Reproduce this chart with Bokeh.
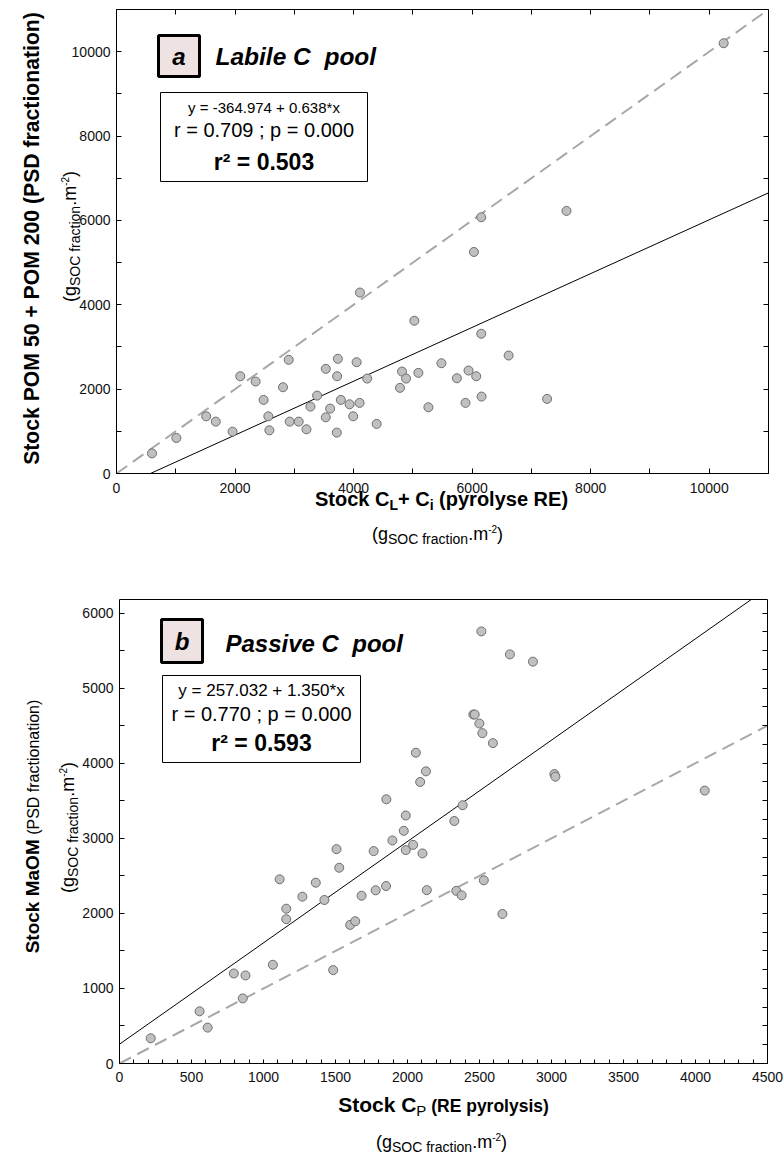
from math import pi
from bokeh.plotting import figure
from bokeh.models import (Range1d, FixedTicker, LinearAxis, Label, BoxAnnotation,
                          CustomJSTickFormatter)
from bokeh.layouts import column
from bokeh.embed import file_html
from bokeh.resources import INLINE

# ---------------- data ----------------
# Panel a : labile C pool
a_x = [599, 1010, 1513, 1675, 1958, 2088, 2347, 2482, 2562, 2579, 2809, 2905, 2922, 3074,
       3205, 3272, 3384, 3531, 3531, 3604, 3722, 3734, 3717, 3785, 3932, 3993, 4051, 4101,
       4230, 4389, 4783, 4817, 4885, 5025, 5093, 5262, 5482, 5743, 5939, 6069, 6159, 5888,
       7265, 6616, 6154, 6030, 6154, 7592, 10244, 4107]
a_y = [477, 842, 1356, 1230, 992, 2306, 2180, 1745, 1356, 1024, 2045, 2695, 1230, 1230,
       1048, 1586, 1847, 2481, 1332, 1539, 2306, 2719, 969, 1745, 1641, 1356, 2639, 1674,
       2251, 1175, 2030, 2417, 2251, 3621, 2386, 1570, 2614, 2258, 2441, 2306, 1824, 1674,
       1768, 2797, 3313, 5252, 6075, 6225, 10200, 4290]
a_intercept, a_slope = -364.974, 0.638
a_eq = ["y = -364.974 + 0.638*x", "r = 0.709 ; p = 0.000", "r\u00b2 = 0.503"]
a_xlim, a_ylim = (0, 11000), (0, 11000)
a_xticks, a_yticks = list(range(0, 11001, 2000)), list(range(0, 11001, 2000))

# Panel b : passive C pool
b_x = [217, 556, 612, 794, 875, 856, 1065, 1484, 1112, 1158, 1158, 1270, 1363, 1423,
       1507, 1526, 1602, 1637, 1681, 1765, 1779, 1851, 1853, 1895, 1974, 1988, 1988, 2039,
       2088, 2104, 2134, 2325, 2339, 2376, 2383, 2058, 2128, 2457, 2467, 2499, 2520, 2593,
       2513, 2711, 2871, 3020, 3027, 4064, 2530, 2659]
b_y = [336, 695, 478, 1199, 1173, 867, 1315, 1244, 2453, 2062, 1922, 2222, 2408, 2178,
       2855, 2607, 1846, 1895, 2235, 2829, 2307, 2364, 3519, 2971, 3099, 3303, 2842, 2912,
       3750, 2798, 2309, 3230, 2300, 2240, 3440, 4139, 3891, 4648, 4648, 4528, 4400, 4267,
       5755, 5449, 5352, 3855, 3820, 3635, 2440, 1992]
b_intercept, b_slope = 257.032, 1.350
b_eq = ["y = 257.032 + 1.350*x", "r = 0.770 ; p = 0.000", "r\u00b2 = 0.593"]
b_xlim, b_ylim = (0, 4500), (0, 6180)
b_xticks, b_yticks = list(range(0, 4501, 500)), list(range(0, 6001, 1000))

FONT = "Liberation Sans"
W = 784

W_REG = {' ': 278, '(': 333, ')': 333, '.': 278, '-': 333, '+': 584, 'S': 667, 'O': 778,
         'C': 722, 'P': 667, 'D': 722, 'R': 722, 'E': 667, 'M': 833, 'L': 556,
         'a': 556, 'c': 500, 'f': 278, 'g': 556, 'i': 222, 'm': 833, 'n': 556, 'o': 556,
         'r': 333, 't': 278, 'y': 500, 's': 500, 'l': 222, 'e': 556, 'p': 556, 'k': 500, 'x': 500}
W_BOLD = {' ': 278, '(': 333, ')': 333, '.': 278, '-': 333, '+': 584, 'S': 667, 'O': 778,
          'C': 722, 'P': 667, 'D': 722, 'R': 722, 'E': 667, 'M': 833, 'L': 611,
          'a': 556, 'c': 556, 'f': 333, 'i': 278, 'n': 611, 'o': 611, 'r': 389, 't': 333,
          'y': 556, 's': 556, 'l': 278, 'e': 556, 'p': 611, 'k': 556}


def tw(s, size, bold):
    tbl = W_BOLD if bold else W_REG
    return sum(tbl.get(c, 556) for c in s) / 1000.0 * size


def make_panel(page_top, H, box, xlim, ylim):
    """box = (left, right, top, bottom) of the plot box in page pixels."""
    bl, br, bt, bb = box
    sx = (xlim[1] - xlim[0]) / (br - bl)
    sy = (ylim[1] - ylim[0]) / (bb - bt)

    def conv(px, py):
        return xlim[0] + (px - bl) * sx, ylim[0] + (bb - py) * sy

    x_start, y_top = conv(0, page_top)
    x_end, y_bot = conv(W, page_top + H)
    p = figure(width=W, height=H, x_range=Range1d(x_start, x_end),
               y_range=Range1d(y_bot, y_top), output_backend="svg",
               toolbar_location=None, tools="", min_border=0,
               x_axis_type=None, y_axis_type=None)
    p.outline_line_color = None
    p.background_fill_color = "white"
    p.border_fill_color = "white"
    p.add_layout(BoxAnnotation(left=xlim[0], right=xlim[1], bottom=ylim[0], top=ylim[1],
                               fill_alpha=0, line_color="black", line_width=1, line_alpha=1))
    return p, conv


def add_axis(p, side, loc, bounds, major, minor, labels=True, tick_len=5, standoff=6):
    ax = LinearAxis(ticker=FixedTicker(ticks=major, minor_ticks=minor),
                    fixed_location=loc, bounds=bounds)
    ax.axis_line_color = None
    ax.major_tick_in = tick_len
    ax.major_tick_out = 0
    ax.minor_tick_in = tick_len
    ax.minor_tick_out = 0
    ax.major_tick_line_color = "black"
    ax.minor_tick_line_color = "black"
    if labels:
        ax.major_label_text_font = FONT
        ax.major_label_text_font_size = "14px"
        ax.major_label_text_color = "#111111"
        ax.major_label_standoff = standoff
    else:
        ax.formatter = CustomJSTickFormatter(code="return ''")
        ax.major_label_standoff = 0
    p.add_layout(ax, side)


def put(p, conv, px, py, text, size, bold=False, italic=False, align="left",
        baseline="middle", angle=0.0):
    x, y = conv(px, py)
    style = "normal"
    if bold and italic:
        style = "bold italic"
    elif bold:
        style = "bold"
    elif italic:
        style = "italic"
    p.add_layout(Label(x=x, y=y, text=text, text_font=FONT, text_font_size=f"{size}px",
                       text_font_style=style, text_align=align, text_baseline=baseline,
                       angle=angle, text_color="black"))


def rich_h(p, conv, cx, cy, pieces):
    """pieces: (text, size, bold, baseline shift in px, positive = down)."""
    total = sum(tw(t, s, b) for t, s, b, sh in pieces)
    base = cy + 0.35 * pieces[0][1]
    x = cx - total / 2
    for t, s, b, sh in pieces:
        lead = len(t) - len(t.lstrip(' '))
        put(p, conv, x + tw(' ' * lead, s, b), base + sh - 0.35 * s, t.lstrip(' '), s, bold=b)
        x += tw(t, s, b)


def rich_v(p, conv, cx, cy, pieces):
    """Rotated 90 deg (reading upwards); baseline shifts go to the right."""
    total = sum(tw(t, s, b) for t, s, b, sh in pieces)
    base = cx + 0.35 * pieces[0][1]
    y = cy + total / 2
    for t, s, b, sh in pieces:
        lead = len(t) - len(t.lstrip(' '))
        put(p, conv, base + sh - 0.35 * s, y - tw(' ' * lead, s, b), t.lstrip(' '), s,
            bold=b, angle=pi / 2)
        y -= tw(t, s, b)


def unit_pieces(m, s, sup):
    return [("(g", m, False, 0), ("SOC fraction", s, False, 4), (".m", m, False, 0),
            ("-2", sup, False, -7), (")", m, False, 0)]


def scatter_and_lines(p, xs, ys, xlim, ylim, b0, b1):
    top = min(xlim[1], ylim[1])
    p.line([0, top], [0, top], line_color="#a8a8a8", line_width=2, line_dash="13 7")
    xa = max(xlim[0], (ylim[0] - b0) / b1)
    xb = min(xlim[1], (ylim[1] - b0) / b1)
    p.line([xa, xb], [b0 + b1 * xa, b0 + b1 * xb], line_color="black", line_width=1)
    p.scatter(xs, ys, marker="circle", size=9, fill_color="#c0c0c0", line_color="#6e6e6e",
              line_width=1)


def box(p, conv, l, t, r, b, lw, fill):
    x0, y0 = conv(l, t)
    x1, y1 = conv(r, b)
    p.add_layout(BoxAnnotation(left=x0, right=x1, top=y0, bottom=y1, fill_color=fill,
                               fill_alpha=1, line_color="black", line_width=lw, line_alpha=1))


# ---------------- panel a ----------------
A_TOP, A_H = 0, 580
pa, ca = make_panel(A_TOP, A_H, (116, 768, 9, 473), a_xlim, a_ylim)
add_axis(pa, "below", a_ylim[0], a_xlim, a_xticks, list(range(1000, 11001, 2000)), standoff=9)
add_axis(pa, "left", a_xlim[0], a_ylim, a_yticks, list(range(1000, 11001, 2000)))
add_axis(pa, "above", a_ylim[1], a_xlim, list(range(0, 11001, 1000)), [], labels=False)
add_axis(pa, "right", a_xlim[1], a_ylim, list(range(0, 11001, 1000)), [], labels=False)
scatter_and_lines(pa, a_x, a_y, a_xlim, a_ylim, a_intercept, a_slope)

box(pa, ca, 158, 35, 199, 76, 3, "#efe2e2")
put(pa, ca, 178.5, 56, "a", 24, bold=True, italic=True, align="center")
put(pa, ca, 215, 56, "Labile C\u00a0\u00a0pool", 24.5, bold=True, italic=True)

box(pa, ca, 160, 92, 367, 181, 1, "white")
put(pa, ca, 263.5, 107, a_eq[0], 15, align="center")
put(pa, ca, 263.5, 129, a_eq[1], 20, align="center")
put(pa, ca, 263.5, 161, a_eq[2], 23, bold=True, align="center")

put(pa, ca, 31, 238, "Stock POM 50 + POM 200 (PSD fractionation)", 21.2, bold=True,
    align="center", angle=pi / 2)
rich_v(pa, ca, 69, 236, unit_pieces(18, 14, 10))
rich_h(pa, ca, 441, 498, [("Stock C", 20, True, 0), ("L", 14, True, 4), ("+ C", 20, True, 0),
                          ("i", 14, True, 4), (" (pyrolyse RE)", 20, True, 0)])
rich_h(pa, ca, 437, 533, unit_pieces(18, 14, 10))

# ---------------- panel b ----------------
B_TOP, B_H = A_H, 578
pb, cb = make_panel(B_TOP, B_H, (119, 767, 599, 1063), b_xlim, b_ylim)
add_axis(pb, "below", b_ylim[0], b_xlim, b_xticks,
         [v for v in range(0, 4501, 100) if v % 500], tick_len=4, standoff=8)
add_axis(pb, "left", b_xlim[0], b_ylim, b_yticks, list(range(500, 6001, 1000)))
add_axis(pb, "right", b_xlim[1], b_ylim, list(range(0, 6001, 250)), [], labels=False)
scatter_and_lines(pb, b_x, b_y, b_xlim, b_ylim, b_intercept, b_slope)

box(pb, cb, 161, 619, 202, 662, 3, "#efe2e2")
put(pb, cb, 181.5, 641, "b", 24, bold=True, italic=True, align="center")
put(pb, cb, 225, 643, "Passive C\u00a0\u00a0pool", 24, bold=True, italic=True)

box(pb, cb, 162, 675, 360, 762, 1, "white")
put(pb, cb, 261, 689.5, b_eq[0], 17, align="center")
put(pb, cb, 261, 713, b_eq[1], 20, align="center")
put(pb, cb, 261, 742, b_eq[2], 23, bold=True, align="center")

rich_v(pb, cb, 32, 826, [("Stock MaOM", 19, True, 0), (" (PSD fractionation)", 16, False, 0)])
rich_v(pb, cb, 67, 827, unit_pieces(18, 14, 10))
rich_h(pb, cb, 443, 1104, [("Stock C", 21, True, 0), ("P", 15, False, 4),
                           (" (RE pyrolysis)", 17.5, True, 0)])
rich_h(pb, cb, 441, 1141, unit_pieces(18, 14, 10))

layout = column(pa, pb)
open("out.html", "w").write(file_html(layout, INLINE))
